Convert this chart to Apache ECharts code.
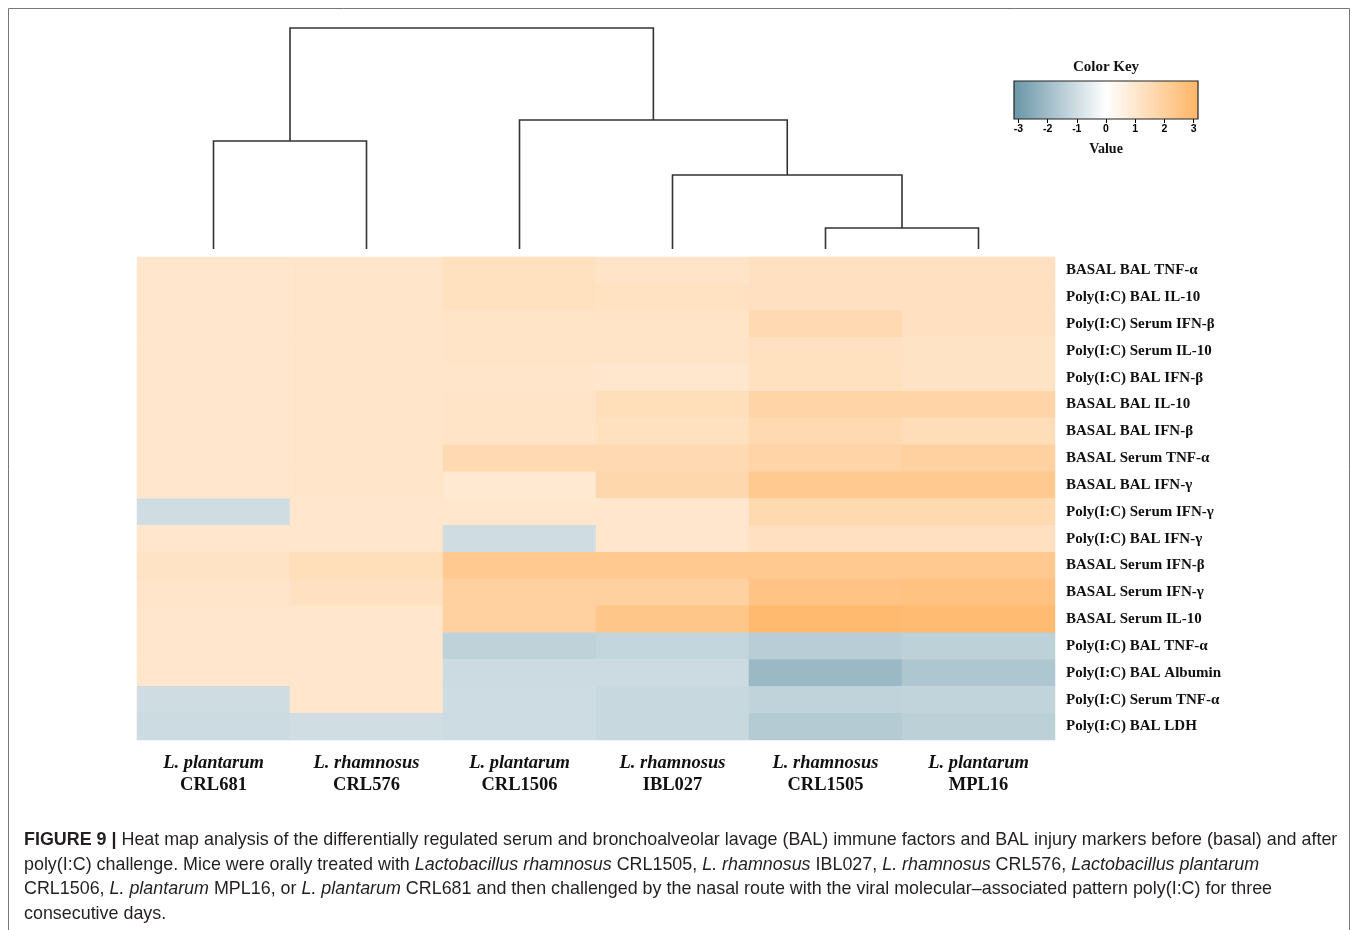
<!DOCTYPE html>
<html>
<head>
<meta charset="utf-8">
<script src="https://cdn.jsdelivr.net/npm/echarts@6/dist/echarts.min.js"></script>
<style>
html,body{margin:0;padding:0;background:#fff;}
#c{width:1358px;height:930px;}
</style>
</head>
<body>
<div id="c"></div>
<script>
// ---------- data ----------
var species = ['L. plantarum', 'L. rhamnosus', 'L. plantarum', 'L. rhamnosus', 'L. rhamnosus', 'L. plantarum'];
var strains = ['CRL681', 'CRL576', 'CRL1506', 'IBL027', 'CRL1505', 'MPL16'];
var factors = [
  'BASAL BAL TNF-α', 'Poly(I:C) BAL IL-10', 'Poly(I:C) Serum IFN-β', 'Poly(I:C) Serum IL-10',
  'Poly(I:C) BAL IFN-β', 'BASAL BAL IL-10', 'BASAL BAL IFN-β', 'BASAL Serum TNF-α',
  'BASAL BAL IFN-γ', 'Poly(I:C) Serum IFN-γ', 'Poly(I:C) BAL IFN-γ', 'BASAL Serum IFN-β',
  'BASAL Serum IFN-γ', 'BASAL Serum IL-10', 'Poly(I:C) BAL TNF-α', 'Poly(I:C) BAL Albumin',
  'Poly(I:C) Serum TNF-α', 'Poly(I:C) BAL LDH'
];
// values: one row per factor, columns in strain order
var values = [
  [1.05, 1.10, 1.30, 1.12, 1.29, 1.29],
  [1.05, 1.08, 1.30, 1.24, 1.29, 1.29],
  [1.05, 1.08, 1.15, 1.12, 1.60, 1.29],
  [1.05, 1.10, 1.15, 1.12, 1.29, 1.20],
  [1.05, 1.10, 1.10, 1.02, 1.30, 1.20],
  [1.05, 1.10, 1.15, 1.40, 1.78, 1.78],
  [1.05, 1.10, 1.15, 1.28, 1.61, 1.45],
  [1.05, 1.08, 1.60, 1.60, 1.78, 1.94],
  [1.05, 1.10, 0.95, 1.67, 2.27, 2.27],
  [-1.00, 1.05, 1.00, 1.05, 1.61, 1.61],
  [1.05, 1.05, -1.00, 1.05, 1.29, 1.29],
  [1.20, 1.40, 2.27, 2.27, 2.27, 2.27],
  [1.10, 1.25, 1.94, 1.94, 2.49, 2.59],
  [1.05, 1.05, 1.94, 2.40, 2.92, 2.88],
  [1.05, 1.05, -1.33, -1.23, -1.48, -1.38],
  [1.05, 1.05, -1.08, -1.08, -2.08, -1.69],
  [-1.00, 1.05, -1.04, -1.15, -1.31, -1.27],
  [-1.08, -0.98, -1.04, -1.15, -1.54, -1.40]
];
// column dendrogram merges: [childA, childB, height]; leaves are 0..5, merges numbered 6..
var merges = [
  [4, 5, 0.95],
  [3, 6, 3.35],
  [2, 7, 5.84],
  [0, 1, 4.89],
  [9, 8, 10.0]
];
var keyTicks = [-3, -2, -1, 0, 1, 2, 3];
var colorStops = ['#6f9aab', '#ffffff', '#ffb86c'];

// ---------- build ----------
var heatData = [];
for (var r = 0; r < factors.length; r++) {
  for (var c = 0; c < strains.length; c++) {
    heatData.push([c, r, values[r][c]]);
  }
}
var nodeX = [], nodeH = [];
for (var i = 0; i < strains.length; i++) { nodeX.push(i + 0.5); nodeH.push(0); }
var dendroData = [];
merges.forEach(function (m) {
  var a = m[0], b = m[1];
  dendroData.push([nodeX[a], nodeH[a], nodeX[b], nodeH[b], m[2]]);
  nodeX.push((nodeX[a] + nodeX[b]) / 2);
  nodeH.push(m[2]);
});
var keyMin = -3.15, keyMax = 3.15;
function stopOffset(v) { return (v - keyMin) / (keyMax - keyMin); }

var serif = '"Liberation Serif", "Times New Roman", serif';
var sans = '"Liberation Sans", Arial, sans-serif';
var capFont = 17.9;

function capLine(text, y) {
  return {
    type: 'text', x: 24, y: y,
    style: {
      text: text,
      font: capFont + 'px ' + sans,
      fill: '#231f20',
      textVerticalAlign: 'middle',
      rich: {
        b: { fontWeight: 'bold', fontSize: capFont, fontFamily: sans, fill: '#231f20' },
        i: { fontStyle: 'italic', fontSize: capFont, fontFamily: sans, fill: '#231f20' }
      }
    }
  };
}

var chart = echarts.init(document.getElementById('c'), null, { renderer: 'canvas' });
chart.setOption({
  backgroundColor: '#ffffff',
  animation: false,
  grid: [
    { left: 137, right: 303, top: 257, height: 483 },
    { left: 137, right: 303, top: 28, height: 221 },
    { left: 1014, width: 184, top: 81, height: 38 }
  ],
  xAxis: [
    {
      type: 'category', gridIndex: 0, data: strains, position: 'bottom',
      axisLine: { show: false }, axisTick: { show: false }, splitLine: { show: false },
      axisLabel: {
        margin: 12, interval: 0,
        formatter: function (v, idx) { return '{i|' + species[idx] + '}\n{b|' + v + '}'; },
        rich: {
          i: { fontFamily: serif, fontStyle: 'italic', fontWeight: 'bold', fontSize: 18.5, lineHeight: 22, color: '#111' },
          b: { fontFamily: serif, fontWeight: 'bold', fontSize: 18.5, lineHeight: 22, color: '#111' }
        }
      }
    },
    { type: 'value', gridIndex: 1, min: 0, max: 6, show: false },
    {
      type: 'value', gridIndex: 2, min: keyMin, max: keyMax,
      axisLine: { show: false }, splitLine: { show: false },
      axisTick: { show: true, customValues: keyTicks, length: 4, lineStyle: { color: '#000' } },
      axisLabel: { customValues: keyTicks, fontSize: 10.5, fontWeight: 'bold', fontFamily: sans, color: '#000', margin: 5 },
      name: 'Value', nameLocation: 'middle', nameGap: 23,
      nameTextStyle: { fontFamily: serif, fontWeight: 'bold', fontSize: 14, color: '#111' }
    }
  ],
  yAxis: [
    {
      type: 'category', gridIndex: 0, data: factors, position: 'right', inverse: true,
      axisLine: { show: false }, axisTick: { show: false }, splitLine: { show: false },
      axisLabel: { margin: 11, padding: [4, 0, 0, 0], fontFamily: serif, fontWeight: 'bold', fontSize: 15, color: '#111' }
    },
    { type: 'value', gridIndex: 1, min: 0, max: 10, show: false },
    { type: 'value', gridIndex: 2, min: 0, max: 1, show: false }
  ],
  visualMap: {
    show: false, type: 'continuous', min: -3, max: 3, seriesIndex: 0,
    inRange: { color: colorStops }
  },
  series: [
    {
      type: 'heatmap', xAxisIndex: 0, yAxisIndex: 0, data: heatData,
      itemStyle: { borderWidth: 0 }, emphasis: { disabled: true }
    },
    {
      type: 'custom', xAxisIndex: 1, yAxisIndex: 1, data: dendroData,
      renderItem: function (params, api) {
        var xl = api.value(0), hl = api.value(1), xr = api.value(2), hr = api.value(3), hm = api.value(4);
        return {
          type: 'polyline',
          shape: { points: [api.coord([xl, hl]), api.coord([xl, hm]), api.coord([xr, hm]), api.coord([xr, hr])] },
          style: { stroke: '#333', lineWidth: 1.6, fill: null }
        };
      }
    },
    {
      type: 'custom', xAxisIndex: 2, yAxisIndex: 2, data: [[keyMin, keyMax]],
      renderItem: function (params, api) {
        var p0 = api.coord([api.value(0), 1]);
        var p1 = api.coord([api.value(1), 0]);
        return {
          type: 'rect',
          shape: { x: p0[0], y: p0[1], width: p1[0] - p0[0], height: p1[1] - p0[1] },
          style: {
            stroke: '#222', lineWidth: 1.2,
            fill: new echarts.graphic.LinearGradient(0, 0, 1, 0, [
              { offset: stopOffset(-3), color: colorStops[0] },
              { offset: stopOffset(0), color: colorStops[1] },
              { offset: stopOffset(3), color: colorStops[2] }
            ])
          }
        };
      }
    }
  ],
  graphic: [
    {
      type: 'rect', shape: { x: 8.5, y: 8.5, width: 1341, height: 940 },
      style: { fill: null, stroke: '#777', lineWidth: 1 }, silent: true
    },
    {
      type: 'text', x: 1106, y: 67,
      style: { text: 'Color Key', font: 'bold 15px ' + serif, fill: '#111', textAlign: 'center', textVerticalAlign: 'middle' }
    },
    capLine('{b|FIGURE 9 |} Heat map analysis of the differentially regulated serum and bronchoalveolar lavage (BAL) immune factors and BAL injury markers before (basal) and after', 840),
    capLine('poly(I:C) challenge. Mice were orally treated with {i|Lactobacillus rhamnosus} CRL1505, {i|L. rhamnosus} IBL027, {i|L. rhamnosus} CRL576, {i|Lactobacillus plantarum}', 865),
    capLine('CRL1506, {i|L. plantarum} MPL16, or {i|L. plantarum} CRL681 and then challenged by the nasal route with the viral molecular\u2013associated pattern poly(I:C) for three', 889),
    capLine('consecutive days.', 914)
  ]
});
</script>
</body>
</html>
